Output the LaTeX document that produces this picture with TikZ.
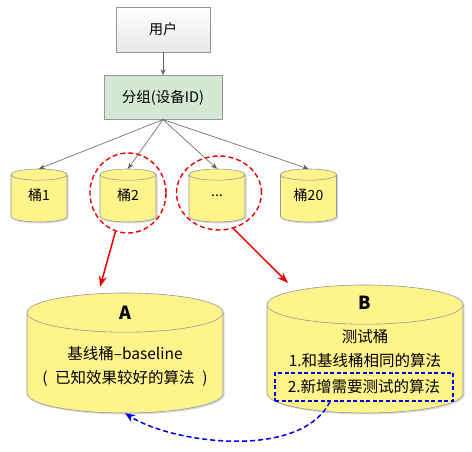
\documentclass[tikz,border=0pt]{standalone}
\usepackage{fontspec}
\setmainfont{Noto Sans CJK SC}
\usepackage{xcolor}
\usepackage{tikz}
\usetikzlibrary{arrows.meta,positioning,calc,shadows,shapes.geometric}
\definecolor{CylY}{RGB}{255,243,140}
\definecolor{GrpG}{RGB}{213,232,212}
\definecolor{EdgeG}{RGB}{150,150,150}
\definecolor{HiRed}{RGB}{240,0,0}
\definecolor{HiBlue}{RGB}{0,0,230}
\tikzset{
  ubox/.style={rectangle,draw=EdgeG,top color=white,bottom color=gray!18,
               minimum width=94pt,minimum height=45pt,font=\fontsize{14}{16}\selectfont,
               drop shadow={shadow xshift=1pt,shadow yshift=-1pt,opacity=0.25}},
  gbox/.style={rectangle,draw=EdgeG,fill=GrpG,
               minimum width=118pt,minimum height=44pt,font=\fontsize{14.5}{16}\selectfont,
               drop shadow={shadow xshift=1pt,shadow yshift=-1pt,opacity=0.25}},
  drumline/.style={draw=EdgeG,fill=CylY,line width=0.6pt},
  drumhold/.style={rectangle,inner sep=0pt,font=\fontsize{14}{16}\selectfont},
  ringmark/.style={ellipse,draw=HiRed,line width=1.4pt,dash pattern=on 5pt off 3pt},
  txt/.style={font=\fontsize{15.5}{24}\selectfont,align=center,inner sep=0pt},
  hdr/.style={font=\fontsize{18}{20}\selectfont\bfseries,inner sep=0pt},
  link/.style={-{Stealth[length=6pt,width=5pt]},gray!75!black,line width=0.6pt},
  pick/.style={-{Stealth[length=11pt,width=8pt]},HiRed,line width=1.5pt},
  back/.style={-{Stealth[length=10pt,width=8pt]},HiBlue,line width=1.5pt,dash pattern=on 5pt off 3pt},
}
% name, x, y, width, height, label
\newcommand{\drum}[6]{%
  \pgfmathsetmacro\drumrx{#4/2}\pgfmathsetmacro\drumry{#4/10}\pgfmathsetmacro\drumhh{#5/2}
  \begin{scope}[shift={(#2,#3)}]
    \fill[black,opacity=.15,shift={(1.5,-1.5)}] (-\drumrx,\drumhh-\drumry) -- (-\drumrx,-\drumhh+\drumry)
      arc[start angle=180,end angle=360,x radius=\drumrx,y radius=\drumry] -- (\drumrx,\drumhh-\drumry)
      arc[start angle=0,end angle=180,x radius=\drumrx,y radius=\drumry] -- cycle;
    \filldraw[drumline] (-\drumrx,\drumhh-\drumry) -- (-\drumrx,-\drumhh+\drumry)
      arc[start angle=180,end angle=360,x radius=\drumrx,y radius=\drumry] -- (\drumrx,\drumhh-\drumry)
      arc[start angle=0,end angle=180,x radius=\drumrx,y radius=\drumry] -- cycle;
    \draw[drumline,fill=none] (-\drumrx,\drumhh-\drumry) arc[start angle=180,end angle=360,x radius=\drumrx,y radius=\drumry];
  \end{scope}
  \node[drumhold,minimum width=#4pt,minimum height=#5pt] (#1) at (#2,#3) {#6};
}

\begin{document}
\begin{tikzpicture}[x=1pt,y=1pt,node distance=33pt]
  \useasboundingbox (0,0) rectangle (472,452);
  \node[ubox] (user) at (163,422.5) {用户};
  \node[gbox,below=23pt of user] (group) {分组(设备ID)};
  \drum{b1}{39}{256.5}{56}{53}{桶1}
  \drum{b2}{128}{256.5}{56}{53}{桶2}
  \drum{b3}{217}{256.5}{56}{53}{...}
  \drum{b20}{308.5}{256.5}{56}{53}{桶20}
  \draw[link] (user) -- (group);
  \draw[link] (group.south) -- (b1.north);
  \draw[link] (group.south) -- (b2.north);
  \draw[link] (group.south) -- (b3.north);
  \draw[link] (group.south) -- (b20.north);
  \node[ringmark,minimum width=76pt,minimum height=80pt] (m2) at (128,259) {};
  \node[ringmark,minimum width=85pt,minimum height=74pt] (m3) at (219,259) {};

  \drum{cylA}{125}{99}{196}{120}{}
  \node[hdr] (labA) at (125,139) {A};
  \node[txt] (txtA) at (125,86) {基线桶–baseline\\(\enspace 已知效果较好的算法\enspace)};

  \drum{cylB}{365}{103}{196}{128}{}
  \node[hdr] (labB) at (365,149) {B};
  \node[txt] (txtB) at (365,103) {测试桶\\1.和基线桶相同的算法};
  \node[txt,draw=HiBlue,line width=1.4pt,dash pattern=on 4pt off 2.5pt,
        minimum width=178pt,minimum height=28pt] (boxNew) at (364,65) {2.新增需要测试的算法};

  \coordinate (tipA) at (100,165);
  \coordinate (tipB) at (288,169);
  \draw[pick] (m2.252) -- (tipA);
  \draw[pick] (m3.292) -- (tipB);
  \draw[back] ([xshift=-34pt]boxNew.south) .. controls +(-30,-59) and +(47,-30) .. (cylA.south);
\end{tikzpicture}
\end{document}
